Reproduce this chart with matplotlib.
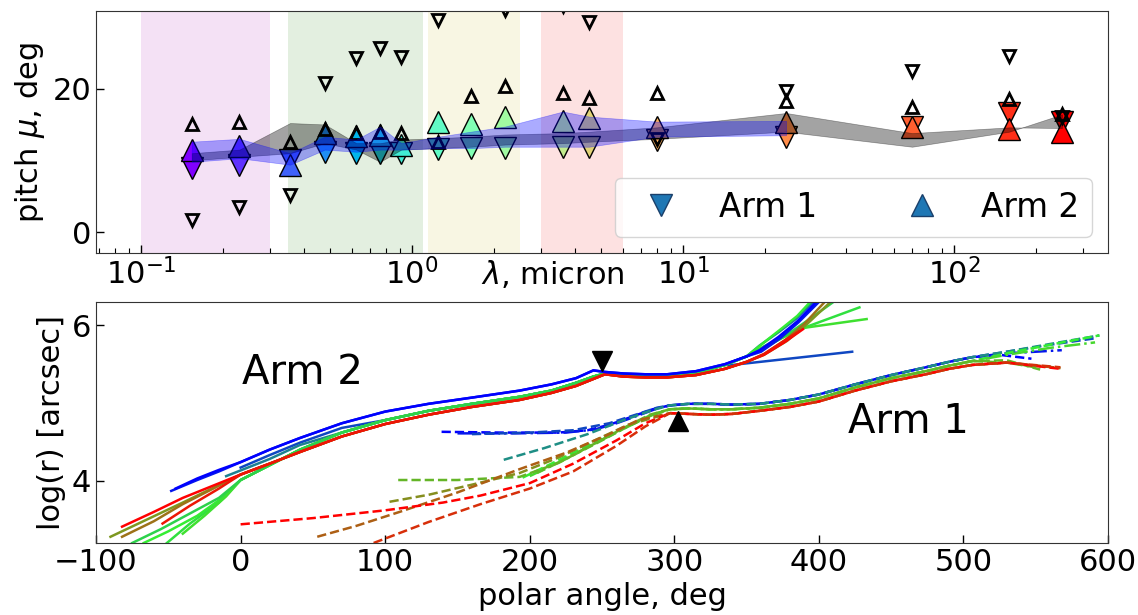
import numpy as np
import matplotlib
matplotlib.use('Agg')
import matplotlib.pyplot as plt
from matplotlib.colors import LinearSegmentedColormap
from matplotlib.lines import Line2D

# ---------------- top panel data ----------------
WAVELENGTHS = [0.154, 0.231, 0.355, 0.477, 0.623, 0.763, 0.913, 1.25, 1.65, 2.2,
               3.6, 4.5, 8.0, 24, 70, 160, 250]
ARM1_PITCH = [9.0, 9.4, 10.1, 11.1, 11.0, 11.0, 11.0, 11.6, 11.7, 11.7,
              11.9, 11.9, 12.8, 13.3, 14.7, 16.6, 15.4]
ARM2_PITCH = [11.5, 12.0, 9.4, 13.8, 13.4, 13.6, 12.2, 15.4, 15.0, 16.1,
              15.5, 15.9, 14.6, 15.3, 14.6, 14.3, 14.0]
ARM1_ALT = [1.7, 3.5, 5.2, 20.8, 24.3, 25.6, 24.4, 29.6, 33.0, 30.9,
            31.5, 29.2, 13.0, 19.6, 22.4, 24.5, 16.0]
ARM2_ALT = [15.0, 15.3, 12.6, 14.3, 13.8, 14.0, 13.8, 12.6, 18.9, 20.3,
            19.4, 18.7, 19.4, 18.2, 17.5, 18.6, 16.4]
GRAY_HI = [11.0, 11.5, 15.2, 15.0, 12.4, 12.4, 12.9, 13.1, 13.3, 13.6,
           13.8, 14.0, 14.6, 16.6, 13.8, 14.6, 14.5]
GRAY_LO = [10.0, 10.5, 11.0, 12.4, 11.5, 9.8, 11.5, 11.7, 11.9, 12.2,
           12.4, 12.6, 13.0, 14.0, 11.9, 14.0, 16.4]
BLUE_WAVE = [0.154, 0.231, 0.355, 0.477, 0.623, 0.763, 0.913, 1.25, 1.65, 2.2,
             3.6, 4.5, 8.0, 24]
BLUE_HI = [12.6, 13.0, 11.0, 13.3, 12.9, 14.7, 12.4, 13.3, 14.0, 14.7,
           16.8, 16.1, 15.4, 15.5]
BLUE_LO = [9.8, 10.3, 9.4, 11.5, 11.2, 11.5, 11.5, 11.7, 11.7, 11.9,
           11.9, 11.9, 13.3, 13.5]
SPAN_LO = [0.1, 0.35, 1.15, 3.0]
SPAN_HI = [0.3, 1.1, 2.5, 6.0]
SPAN_COLORS = ['#f4e1f5', '#e3efe0', '#f8f6e3', '#fde1e1']

# ---------------- bottom panel data ----------------
# Arm 2 (solid): shared middle tracks
T2_ANG = [0, 20, 41, 70, 100, 130, 160, 193, 215, 232, 244, 252, 265, 280, 295, 315, 335, 350]
T2_LOGR = {
    'blue':  [4.24, 4.40, 4.55, 4.74, 4.89, 4.99, 5.07, 5.16, 5.24, 5.32, 5.42, 5.40, 5.38, 5.37, 5.37, 5.41, 5.50, 5.60],
    'green': [4.01, 4.20, 4.40, 4.62, 4.78, 4.90, 4.99, 5.08, 5.16, 5.26, 5.34, 5.38, 5.36, 5.35, 5.35, 5.39, 5.49, 5.60],
    'red':   [4.08, 4.22, 4.37, 4.57, 4.73, 4.85, 4.95, 5.04, 5.13, 5.22, 5.31, 5.37, 5.34, 5.33, 5.33, 5.36, 5.44, 5.53],
}
ARM2_CPOS = [0.15, 0.27, 0.5, 0.47, 0.53, 0.44, 0.68, 0.76, 1.0, 0.95, 0.05, 0.0]
ARM2_TRACK = ['green', 'green', 'green', 'green', 'green', 'green',
              'red', 'red', 'red', 'red', 'blue', 'blue']
ARM2_HEAD_ANG = [[0, 20, 41, 70], [-10, 20, 41],
                 [-67, -50, -30, -15], [-51, -35, -15], [-40, -25, -10], [-75, -55, -35, -15],
                 [-90, -65, -40, -20], [-82, -60, -40, -20], [-82, -60, -40, -20], [-54, -35, -15],
                 [-48, -30, -15], [-45, -30, -15]]
ARM2_HEAD_LOGR = [[4.17, 4.33, 4.49, 4.68], [4.06, 4.28, 4.46],
                  [3.20, 3.35, 3.55, 3.75], [3.20, 3.45, 3.72], [3.32, 3.55, 3.80], [3.20, 3.38, 3.58, 3.78],
                  [3.28, 3.50, 3.72, 3.90], [3.28, 3.48, 3.70, 3.89], [3.41, 3.60, 3.78, 3.93], [3.45, 3.68, 3.90],
                  [3.87, 4.01, 4.12], [3.90, 4.03, 4.14]]
ARM2_TAIL_ANG = [[340, 423], [359, 372, 384, 396],
                 [362, 375, 385, 394], [362, 376, 387, 428], [362, 376, 387, 433], [362, 378, 392, 410],
                 [362, 378, 392, 408], [362, 376, 390, 404], [362, 376, 389], [362, 375, 386],
                 [360, 373, 386, 400], [359, 372, 385, 398]]
ARM2_TAIL_LOGR = [[5.49, 5.66], [5.74, 5.91, 6.08, 6.30],
                  [5.78, 5.97, 6.12, 6.30], [5.72, 5.85, 5.95, 6.23], [5.73, 5.86, 5.96, 6.08], [5.70, 5.88, 6.06, 6.30],
                  [5.62, 5.80, 6.02, 6.30], [5.63, 5.80, 6.02, 6.30], [5.62, 5.78, 5.95], [5.63, 5.79, 5.92],
                  [5.66, 5.83, 6.04, 6.30], [5.68, 5.85, 6.05, 6.30]]

# Arm 1 (dashed): shared tracks
T1_ANG = [297, 310, 325, 340, 359, 380, 400, 425, 450, 474, 490, 506]
T1_LOGR = {
    'upper': [4.97, 4.99, 4.99, 4.98, 4.99, 5.04, 5.11, 5.24, 5.36, 5.46, 5.53, 5.59],
    'mid':   [4.92, 4.93, 4.92, 4.92, 4.94, 4.99, 5.06, 5.20, 5.32, 5.41, 5.48, 5.54],
    'lower': [4.87, 4.86, 4.85, 4.86, 4.90, 4.95, 5.02, 5.16, 5.28, 5.37, 5.44, 5.49],
}
ARM1_CPOS = [0.0, 0.05, 0.15, 0.3, 0.5, 0.55, 0.6, 0.62, 0.7, 0.8, 1.0, 0.9]
ARM1_STYLE = ['--', '-.', '--', '--', '--', '-.', '--', '--', '--', '--', '--', '--']
ARM1_TRACK = ['upper', 'upper', 'upper', 'upper', 'mid', 'mid', 'mid', 'mid',
              'lower', 'lower', 'lower', 'lower']
ARM1_HEAD_ANG = [[139, 180, 220, 240, 255, 270, 285], [150, 190, 225, 245, 260, 275, 288],
                 [160, 200, 230, 255, 275, 288], [182, 210, 240, 265, 285],
                 [195, 215, 240, 262, 282], [200, 220, 245, 265, 284], [205, 225, 248, 268, 286],
                 [109, 150, 193, 220, 245, 265, 283], [103, 130, 160, 193, 220, 245, 268],
                 [53, 80, 110, 150, 193, 225, 255, 275], [0, 50, 100, 140, 166, 200, 230, 260, 280],
                 [92, 130, 166, 200, 230, 260, 280]]
ARM1_HEAD_LOGR = [[4.63, 4.62, 4.62, 4.65, 4.72, 4.82, 4.92], [4.61, 4.61, 4.62, 4.66, 4.74, 4.84, 4.93],
                  [4.60, 4.62, 4.65, 4.74, 4.86, 4.94], [4.27, 4.42, 4.60, 4.78, 4.91],
                  [4.04, 4.22, 4.45, 4.65, 4.83], [4.06, 4.24, 4.48, 4.67, 4.84], [4.10, 4.28, 4.50, 4.70, 4.86],
                  [4.01, 4.01, 4.05, 4.23, 4.48, 4.68, 4.85], [3.73, 3.82, 3.95, 4.10, 4.30, 4.52, 4.72],
                  [3.28, 3.42, 3.60, 3.85, 4.15, 4.36, 4.60, 4.78], [3.44, 3.52, 3.62, 3.72, 3.81, 3.97, 4.22, 4.52, 4.74],
                  [3.20, 3.47, 3.70, 3.90, 4.12, 4.45, 4.70]]
ARM1_TAIL_ANG = [[525, 547], [530, 550, 568], [530, 560, 590], [530, 560, 594],
                 [530, 560, 594], [530, 560, 591], [530, 553], [530, 553],
                 [530, 567], [530, 567], [530, 567], [530, 567]]
ARM1_TAIL_LOGR = [[5.62, 5.57], [5.64, 5.66, 5.68], [5.66, 5.75, 5.83], [5.66, 5.76, 5.87],
                  [5.64, 5.75, 5.87], [5.62, 5.71, 5.78], [5.55, 5.43], [5.52, 5.45],
                  [5.52, 5.45], [5.52, 5.45], [5.52, 5.44], [5.52, 5.46]]

MARK_ARM2 = (250, 5.54)
MARK_ARM1 = (302.5, 4.77)


def assemble(head_a, head_r, track_a, track_r, tail_a, tail_r):
    a = list(head_a)
    r = list(head_r)
    for ta, tr in zip(track_a, track_r):
        if ta > head_a[-1] and ta < tail_a[0]:
            a.append(ta)
            r.append(tr)
    return a + list(tail_a), r + list(tail_r)


# ---------------- figure ----------------
plt.rcParams['font.family'] = 'DejaVu Sans'
plt.rcParams['font.size'] = 22
plt.rcParams['mathtext.fontset'] = 'dejavusans'

fig = plt.figure(figsize=(11.38, 6.15), dpi=100)
ax1 = fig.add_axes([0.0844, 0.5886, 0.8893, 0.3935])
ax2 = fig.add_axes([0.0844, 0.1171, 0.8893, 0.3919])

# --- top ---
ax1.set_xscale('log')
for lo, hi, c in zip(SPAN_LO, SPAN_HI, SPAN_COLORS):
    ax1.axvspan(lo, hi, color=c, lw=0, zorder=0)

cols = plt.cm.rainbow(np.linspace(0, 1, len(WAVELENGTHS)))
for i, w in enumerate(WAVELENGTHS):
    ax1.plot(w, ARM1_PITCH[i], 'v', ms=15.5, mfc=cols[i], mec='k', mew=1, zorder=2)
    ax1.plot(w, ARM2_PITCH[i], '^', ms=15.5, mfc=cols[i], mec='k', mew=1, zorder=2)
    ax1.plot(w, ARM1_ALT[i], 'v', ms=9, mfc='none', mec='k', mew=2, zorder=2.5)
    ax1.plot(w, ARM2_ALT[i], '^', ms=9, mfc='none', mec='k', mew=2, zorder=2.5)

ax1.fill_between(WAVELENGTHS, GRAY_LO, GRAY_HI, color='k', alpha=0.36, lw=0.5, zorder=3)
ax1.fill_between(BLUE_WAVE, BLUE_LO, BLUE_HI, color='b', alpha=0.33, lw=0.5, zorder=3.1)

ax1.set_xlim(0.0683, 370)
ax1.set_ylim(-2.9, 30.8)
ax1.set_yticks([0, 20])
ax1.set_ylabel(r'pitch $\mu$, deg')
ax1.set_xlabel(r'$\lambda$, micron')
ax1.xaxis.set_label_coords(0.4516, -0.02)

h1 = Line2D([], [], ls='none', marker='v', ms=15.5, mfc='#1f77b4', mec='#1a3f6a', mew=1)
h2 = Line2D([], [], ls='none', marker='^', ms=15.5, mfc='#1f77b4', mec='#1a3f6a', mew=1)
ax1.legend([h1, h2], ['Arm 1', 'Arm 2'], loc='lower right', ncol=2, fontsize=23.5,
           columnspacing=2.2)

# --- bottom ---
cmap = LinearSegmentedColormap.from_list('bgr', ['#0000ff', '#33ee33', '#ff0000'])
for k in range(len(ARM2_CPOS)):
    a, r = assemble(ARM2_HEAD_ANG[k], ARM2_HEAD_LOGR[k], T2_ANG, T2_LOGR[ARM2_TRACK[k]],
                    ARM2_TAIL_ANG[k], ARM2_TAIL_LOGR[k])
    ax2.plot(a, r, ls='-', color=cmap(ARM2_CPOS[k]), lw=1.8)
for k in range(len(ARM1_CPOS)):
    a, r = assemble(ARM1_HEAD_ANG[k], ARM1_HEAD_LOGR[k], T1_ANG, T1_LOGR[ARM1_TRACK[k]],
                    ARM1_TAIL_ANG[k], ARM1_TAIL_LOGR[k])
    ax2.plot(a, r, ls=ARM1_STYLE[k], color=cmap(ARM1_CPOS[k]), lw=1.8)

ax2.plot(*MARK_ARM2, 'v', color='k', ms=15)
ax2.plot(*MARK_ARM1, '^', color='k', ms=15)
ax2.text(42.5, 5.38, 'Arm 2', fontsize=29, ha='center', va='center')
ax2.text(462, 4.75, 'Arm 1', fontsize=29, ha='center', va='center')

ax2.set_xlim(-100, 600)
ax2.set_ylim(3.2, 6.3)
ax2.set_yticks([4, 6])
ax2.set_xticks(range(-100, 601, 100))
ax2.set_xlabel('polar angle, deg')
ax2.set_ylabel('log(r) [arcsec]')

for ax in (ax1, ax2):
    ax.tick_params(which='major', direction='in', length=6, width=1)
    ax.tick_params(which='minor', direction='in', length=3.5, width=0.8)
    for s in ax.spines.values():
        s.set_color('#333333')

fig.savefig('out.png', dpi=100)
